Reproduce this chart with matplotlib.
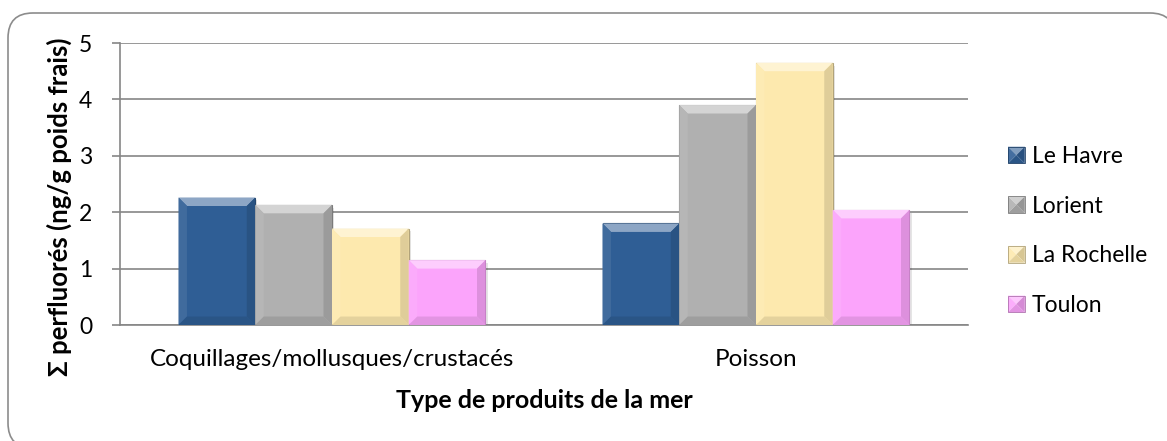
import numpy as np
import matplotlib
matplotlib.use("Agg")
import matplotlib.pyplot as plt
from matplotlib.patches import Polygon, Rectangle, FancyBboxPatch, Patch
from matplotlib.legend_handler import HandlerBase
from matplotlib.colors import to_rgb

plt.rcParams["font.family"] = ["Lato", "DejaVu Sans"]

categories = ["Coquillages/mollusques/crustacés", "Poisson"]
cities = ["Le Havre", "Lorient", "La Rochelle", "Toulon"]
le_havre = [2.26, 1.80]
lorient = [2.13, 3.90]
la_rochelle = [1.71, 4.65]
toulon = [1.15, 2.04]
series = [le_havre, lorient, la_rochelle, toulon]
colors = ["#2f5e95", "#b0b0b0", "#fde9ae", "#fba4fb"]
y_ticks = [0, 1, 2, 3, 4, 5]

GRID = "#868686"


def mix(c, other, t):
    c = np.array(to_rgb(c))
    o = np.array(to_rgb(other))
    return tuple(c * (1 - t) + o * t)


def bevel_bar(ax, x, w, h, color, bx=0.02, by=0.15):
    # soft shadow
    ax.add_patch(Rectangle((x + 0.005, -0.05), w, h, facecolor="#000000",
                           alpha=0.10, linewidth=0, zorder=2))
    ax.add_patch(Rectangle((x, 0), w, h, facecolor=color,
                           edgecolor=mix(color, "black", 0.3), linewidth=0.8, zorder=3))
    top = [(x, h), (x + w, h), (x + w - bx, h - by), (x + bx, h - by)]
    left = [(x, 0), (x, h), (x + bx, h - by), (x + bx, by)]
    right = [(x + w, 0), (x + w, h), (x + w - bx, h - by), (x + w - bx, by)]
    bottom = [(x, 0), (x + w, 0), (x + w - bx, by), (x + bx, by)]
    ax.add_patch(Polygon(top, closed=True, facecolor=mix(color, "white", 0.45),
                         linewidth=0, zorder=4))
    ax.add_patch(Polygon(left, closed=True, facecolor=mix(color, "white", 0.08),
                         linewidth=0, zorder=4))
    ax.add_patch(Polygon(right, closed=True, facecolor=mix(color, "black", 0.12),
                         linewidth=0, zorder=4))
    ax.add_patch(Polygon(bottom, closed=True, facecolor=mix(color, "black", 0.1),
                         linewidth=0, zorder=4))


class BevelHandler(HandlerBase):
    # pyramid-like legend key, as in the Excel bevel style
    def create_artists(self, legend, orig_handle, xdescent, ydescent,
                       width, height, fontsize, trans):
        c = orig_handle.get_facecolor()
        s = min(width, height)
        x0, y0 = -xdescent, -ydescent + (height - s) / 2
        cx, cy = x0 + s / 2, y0 + s / 2
        tl, tr, bl, br = (x0, y0 + s), (x0 + s, y0 + s), (x0, y0), (x0 + s, y0)
        parts = [([tl, tr, (cx, cy)], mix(c, "white", 0.4)),
                 ([tl, bl, (cx, cy)], mix(c, "white", 0.1)),
                 ([tr, br, (cx, cy)], mix(c, "black", 0.15)),
                 ([bl, br, (cx, cy)], mix(c, "black", 0.1))]
        arts = []
        for pts, fc in parts:
            p = Polygon(pts, closed=True, facecolor=fc, linewidth=0, transform=trans)
            arts.append(p)
        edge = Rectangle((x0, y0), s, s, facecolor="none",
                         edgecolor=mix(c, "black", 0.3), linewidth=0.6, transform=trans)
        arts.append(edge)
        return arts


fig = plt.figure(figsize=(11.67, 4.41), dpi=100)

# rounded chart frame (runs off the right/bottom edge like the original)
frame = FancyBboxPatch((0.08, -0.07), 11.67, 4.35,
                       boxstyle="round,pad=0,rounding_size=0.25",
                       transform=fig.dpi_scale_trans, facecolor="white",
                       edgecolor="#8c8c8c", linewidth=1.2, zorder=-5)
fig.patches.append(frame)

ax = fig.add_axes([120 / 1167, 116 / 441, 848 / 1167, 282 / 441])
ax.set_facecolor("none")
ax.set_zorder(2)

x = np.arange(len(categories))
width = 0.181
for i, (vals, col) in enumerate(zip(series, colors)):
    offs = (i - 1.5) * width
    for xi, v in zip(x, vals):
        bevel_bar(ax, xi + offs - width / 2, width, v, col)

ax.set_xlim(-0.5, 1.5)
ax.set_ylim(0, 5)
ax.set_yticks(y_ticks)
ax.set_xticks(x)
ax.set_xticklabels(categories)
ax.yaxis.grid(True, color=GRID, linewidth=1.2, zorder=1)
ax.set_axisbelow(True)
for s in ["top", "right"]:
    ax.spines[s].set_visible(False)
for s in ["left", "bottom"]:
    ax.spines[s].set_color(GRID)
    ax.spines[s].set_linewidth(1.2)
ax.tick_params(axis="y", length=6, width=1.2, color=GRID, pad=14, labelsize=16.5)
ax.tick_params(axis="x", length=0, pad=17, labelsize=17.5)

ax.set_xlabel("Type de produits de la mer", fontsize=18, fontweight="bold", labelpad=14)
fig.text(59 / 1167, 234 / 441, "Σ perfluorés (ng/g poids frais)", rotation=90,
         ha="center", va="center", fontsize=18.5, fontweight="bold")

handles = [Patch(facecolor=c) for c in colors]
fig.legend(handles, cities, loc="center left", bbox_to_anchor=(1008 / 1167, 210 / 441),
           frameon=False, fontsize=16.5, handlelength=0.75, handleheight=0.75,
           handletextpad=0.3, labelspacing=1.25, borderpad=0, borderaxespad=0,
           handler_map={Patch: BevelHandler()})

fig.savefig("out.png", dpi=100)
